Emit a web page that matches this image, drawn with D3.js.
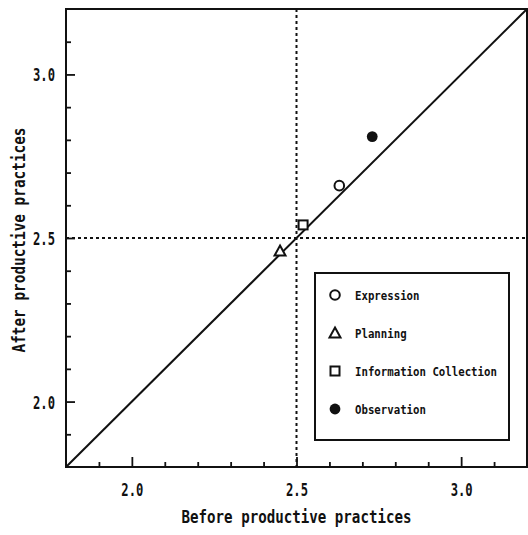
<!DOCTYPE html>
<html>
<head>
<meta charset="utf-8">
<script src="https://cdn.jsdelivr.net/npm/d3@7"></script>
<style>
  body { margin: 0; background: #fff; }
  text { font-family: "DejaVu Sans Mono", "Liberation Mono", monospace; font-weight: bold; fill: #111; }
</style>
</head>
<body>
<svg width="528" height="535"></svg>
<script>
// data
var groups = ["Expression", "Planning", "Information Collection", "Observation"];
var symbols = ["circle", "triangle", "square", "dot"];
var before = [2.63, 2.45, 2.52, 2.73];
var after = [2.66, 2.46, 2.54, 2.81];
var majorTicks = [2.0, 2.5, 3.0];
var minorTicks = [1.9, 2.1, 2.2, 2.3, 2.4, 2.6, 2.7, 2.8, 2.9, 3.1];
var refValue = 2.5;
var domain = [1.8, 3.2];

var svg = d3.select("svg"),
    width = +svg.attr("width"),
    height = +svg.attr("height");

var x = d3.scaleLinear().domain(domain).range([66, 527]);
var y = d3.scaleLinear().domain(domain).range([467, 9]);

// frame
svg.append("rect")
    .attr("x", x(domain[0])).attr("y", y(domain[1]))
    .attr("width", x(domain[1]) - x(domain[0]))
    .attr("height", y(domain[0]) - y(domain[1]))
    .attr("fill", "none").attr("stroke", "#111").attr("stroke-width", 2);

// minor + major ticks (inside)
var gx = svg.append("g").attr("transform", "translate(0," + y(domain[0]) + ")");
gx.call(d3.axisBottom(x).tickValues(minorTicks).tickSize(-5).tickFormat(""));
var gx2 = svg.append("g").attr("transform", "translate(0," + y(domain[0]) + ")");
gx2.call(d3.axisBottom(x).tickValues(majorTicks).tickSize(-10).tickPadding(0).tickFormat(d3.format(".1f")));

var gy = svg.append("g").attr("transform", "translate(" + x(domain[0]) + ",0)");
gy.call(d3.axisLeft(y).tickValues(minorTicks).tickSize(-5).tickFormat(""));
var gy2 = svg.append("g").attr("transform", "translate(" + x(domain[0]) + ",0)");
gy2.call(d3.axisLeft(y).tickValues(majorTicks).tickSize(-9).tickPadding(11).tickFormat(d3.format(".1f")));

svg.selectAll(".domain").remove();
svg.selectAll(".tick line").attr("stroke", "#111").attr("stroke-width", 1.8);

gx2.selectAll(".tick text")
    .attr("y", 29).attr("dy", 0)
    .attr("font-size", 18)
    .attr("textLength", 22).attr("lengthAdjust", "spacingAndGlyphs")
    .attr("font-family", "DejaVu Sans Mono").attr("font-weight", "bold");
gy2.selectAll(".tick text")
    .attr("dy", 6.5)
    .attr("font-size", 18)
    .attr("textLength", 22).attr("lengthAdjust", "spacingAndGlyphs")
    .attr("font-family", "DejaVu Sans Mono").attr("font-weight", "bold");

// reference lines at 2.5
svg.append("line")
    .attr("x1", x(refValue)).attr("x2", x(refValue))
    .attr("y1", y(domain[1])).attr("y2", y(domain[0]))
    .attr("stroke", "#111").attr("stroke-width", 2).attr("stroke-dasharray", "3,3");
svg.append("line")
    .attr("x1", x(domain[0])).attr("x2", x(domain[1]))
    .attr("y1", y(refValue)).attr("y2", y(refValue))
    .attr("stroke", "#111").attr("stroke-width", 2).attr("stroke-dasharray", "3,3");

// diagonal y = x
svg.append("line")
    .attr("x1", x(domain[0])).attr("y1", y(domain[0]))
    .attr("x2", x(domain[1])).attr("y2", y(domain[1]))
    .attr("stroke", "#111").attr("stroke-width", 2);

// marker drawing helper
function drawSymbol(g, kind, cx, cy) {
  switch (kind) {
    case "circle":
      g.append("circle").attr("cx", cx).attr("cy", cy).attr("r", 4.8)
        .attr("fill", "#fff").attr("stroke", "#111").attr("stroke-width", 2);
      break;
    case "dot":
      g.append("circle").attr("cx", cx).attr("cy", cy).attr("r", 5.4)
        .attr("fill", "#111");
      break;
    case "square":
      g.append("rect").attr("x", cx - 4.5).attr("y", cy - 4.5)
        .attr("width", 9).attr("height", 9)
        .attr("fill", "#fff").attr("stroke", "#111").attr("stroke-width", 2);
      break;
    case "triangle":
      g.append("path")
        .attr("d", "M" + cx + "," + (cy - 5.5) + "L" + (cx + 5.5) + "," + (cy + 4.5) +
          "L" + (cx - 5.5) + "," + (cy + 4.5) + "Z")
        .attr("fill", "#fff").attr("stroke", "#111").attr("stroke-width", 2);
      break;
  }
}

var pts = svg.append("g");
groups.forEach(function(gname, i) {
  drawSymbol(pts, symbols[i], x(before[i]), y(after[i]));
});

// legend
var legend = svg.append("g").attr("transform", "translate(315,273)");
legend.append("rect")
    .attr("width", 194).attr("height", 167)
    .attr("fill", "#fff").attr("stroke", "#111").attr("stroke-width", 2);
groups.forEach(function(gname, i) {
  var ly = 22 + i * 38;
  drawSymbol(legend, symbols[i], 20, ly);
  legend.append("text")
    .attr("x", 40).attr("y", ly + 4.5)
    .attr("font-size", 12.5)
    .attr("textLength", gname.length * 6.45).attr("lengthAdjust", "spacingAndGlyphs")
    .text(gname);
});

// axis titles
var xTitle = "Before productive practices";
svg.append("text")
    .attr("x", x(refValue)).attr("y", 523)
    .attr("text-anchor", "middle")
    .attr("font-size", 18.5)
    .attr("textLength", 230).attr("lengthAdjust", "spacingAndGlyphs")
    .text(xTitle);

var yTitle = "After productive practices";
svg.append("text")
    .attr("transform", "translate(25," + 240 + ") rotate(-90)")
    .attr("text-anchor", "middle")
    .attr("font-size", 18.5)
    .attr("textLength", 225).attr("lengthAdjust", "spacingAndGlyphs")
    .text(yTitle);
</script>
</body>
</html>
